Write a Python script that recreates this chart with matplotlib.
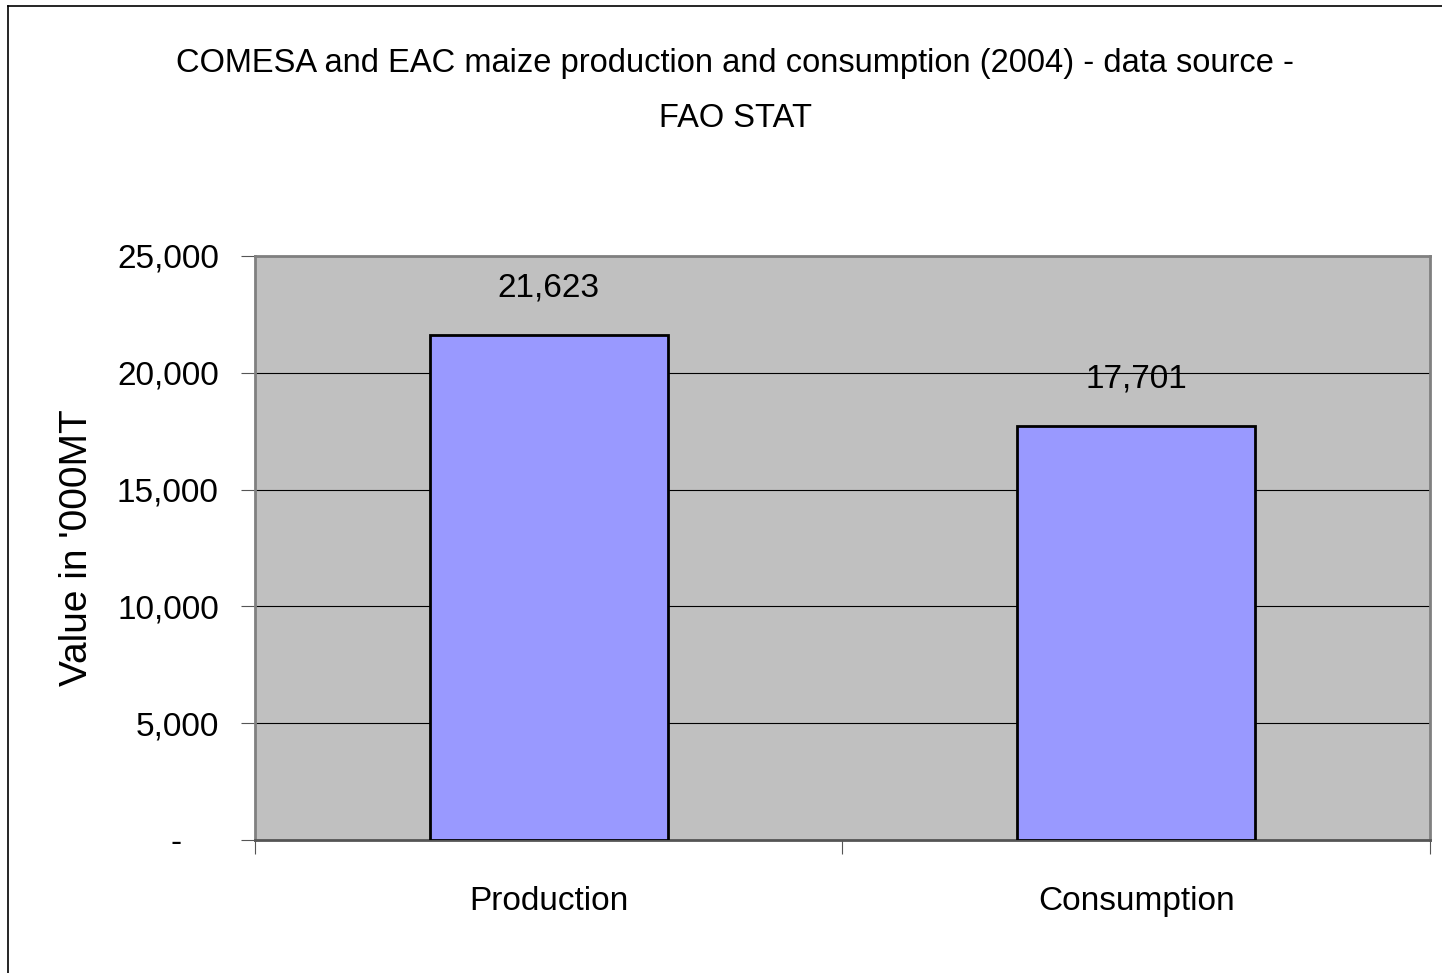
import matplotlib.pyplot as plt
from matplotlib.lines import Line2D

# data
categories = ["Production", "Consumption"]
values = [21623, 17701]
yticks = [0, 5000, 10000, 15000, 20000, 25000]
ytick_labels = ["-    ", "5,000", "10,000", "15,000", "20,000", "25,000"]

font = ["Liberation Sans", "DejaVu Sans"]

fig = plt.figure(figsize=(14.42, 9.73), dpi=100)
ax = fig.add_axes([0.1768, 0.1367, 0.8149, 0.6002])
ax.set_facecolor("#C0C0C0")

x = range(len(categories))
ax.bar(x, values, width=0.405, color="#9999FF", edgecolor="black", linewidth=2, zorder=3)

for xi, v in zip(x, values):
    ax.text(xi, v + 1350, f"{v:,}", ha="center", va="bottom", fontsize=24, family=font)

ax.set_xlim(-0.5, 1.5)
ax.set_ylim(0, 25000)
ax.set_yticks(yticks)
ax.set_yticklabels(ytick_labels, fontsize=24, family=font)
ax.yaxis.grid(True, color="black", linewidth=0.8, zorder=1)
ax.set_axisbelow(True)

# category boundaries as major ticks, names as minor
ax.set_xticks([-0.5, 0.5, 1.5])
ax.set_xticklabels([])
ax.set_xticks(list(x), minor=True)
ax.set_xticklabels(categories, minor=True, fontsize=24, family=font)
ax.tick_params(axis="x", which="minor", length=0, pad=33)
ax.tick_params(axis="x", which="major", length=10, color="#555555", direction="out")
ax.tick_params(axis="y", length=10, color="#555555", pad=16)

for s in ["top", "left", "right"]:
    ax.spines[s].set_color("#808080")
    ax.spines[s].set_linewidth(2)
ax.spines["bottom"].set_color("#555555")
ax.spines["bottom"].set_linewidth(2)

ax.set_ylabel("Value in '000MT", fontsize=28, family=font)
ax.yaxis.set_label_coords(-0.136, 0.5)

fig.text(0.51, 0.935, "COMESA and EAC maize production and consumption (2004) - data source -",
         ha="center", va="center", fontsize=23.5, family=font)
fig.text(0.51, 0.878, "FAO STAT", ha="center", va="center", fontsize=23.5, family=font)

# outer chart border (left and top only visible)
fig.add_artist(Line2D([8 / 1442, 8 / 1442], [0, 1 - 6 / 973], transform=fig.transFigure, color="black", linewidth=1.2))
fig.add_artist(Line2D([8 / 1442, 1], [1 - 6 / 973, 1 - 6 / 973], transform=fig.transFigure, color="black", linewidth=1.2))

fig.savefig("out.png", dpi=100)
